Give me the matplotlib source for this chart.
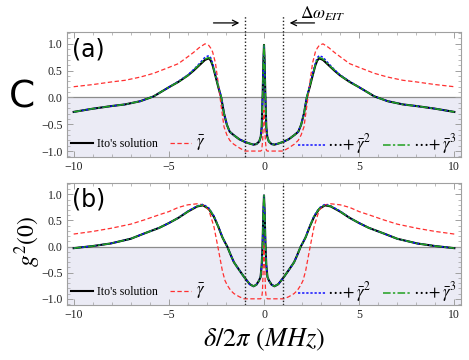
import matplotlib
matplotlib.use("Agg")
import matplotlib.pyplot as plt
from matplotlib.ticker import MultipleLocator, FuncFormatter

plt.rcParams['mathtext.fontset'] = 'stix'
plt.rcParams['font.family'] = ['Liberation Serif', 'DejaVu Serif']

# detuning delta/2pi (MHz)
x_half = [0, 0.03, 0.07, 0.12, 0.17, 0.25, 0.4, 0.55, 0.75, 1.0, 1.3, 1.6,
          1.8, 1.95, 2.1, 2.25, 2.4, 2.55, 2.7, 2.8, 2.9, 3.1, 3.4, 3.7, 4.0,
          4.5, 5.0, 5.8, 6.5, 7.3, 8.0, 9.0, 10.0]

# panel (a): C
ito_a = [0.98, 0.70, 0.05, -0.55, -0.73, -0.82, -0.87, -0.88, -0.86, -0.83,
         -0.78, -0.70, -0.64, -0.51, -0.30, 0.0, 0.19, 0.40, 0.60, 0.69, 0.73,
         0.70, 0.60, 0.50, 0.41, 0.29, 0.19, 0.02, -0.07, -0.13, -0.16, -0.21, -0.27]
g1_a = [-0.24, -0.40, -0.80, -0.98, -1.0, -1.0, -1.0, -1.0, -1.0, -1.0,
        -0.94, -0.87, -0.80, -0.70, -0.55, -0.16, 0.25, 0.64, 0.85, 0.92, 0.97,
        1.0, 0.93, 0.84, 0.76, 0.63, 0.56, 0.45, 0.38, 0.32, 0.29, 0.24, 0.20]
g2_a = [0.98, 0.70, 0.05, -0.55, -0.73, -0.82, -0.87, -0.88, -0.86, -0.83,
        -0.78, -0.70, -0.64, -0.51, -0.29, 0.02, 0.22, 0.44, 0.64, 0.74, 0.78,
        0.75, 0.63, 0.52, 0.42, 0.30, 0.19, 0.02, -0.07, -0.13, -0.16, -0.21, -0.27]
g3_a = [0.98, 0.70, 0.05, -0.55, -0.73, -0.82, -0.87, -0.88, -0.86, -0.83,
        -0.78, -0.70, -0.64, -0.51, -0.30, 0.01, 0.20, 0.41, 0.61, 0.71, 0.745,
        0.715, 0.61, 0.51, 0.41, 0.29, 0.19, 0.02, -0.07, -0.13, -0.16, -0.21, -0.27]

# panel (b): g2(0)
x_half_b = [0, 0.03, 0.08, 0.12, 0.18, 0.26, 0.4, 0.55, 0.75, 1.05, 1.3, 1.58,
            1.75, 1.93, 2.05, 2.19, 2.4, 2.63, 2.9, 3.2, 3.5, 4.0, 4.5, 5.0,
            5.5, 6.3, 7.0, 8.05, 9.0, 10.0]
ito_b = [0.98, 0.70, 0.0, -0.35, -0.58, -0.65, -0.73, -0.76, -0.72, -0.58,
         -0.45, -0.30, -0.16, 0.0, 0.08, 0.18, 0.38, 0.57, 0.72, 0.79, 0.77,
         0.67, 0.55, 0.45, 0.36, 0.25, 0.15, 0.06, 0.01, -0.03]
g1_b = [0.02, -0.30, -0.85, -0.98, -1.0, -1.0, -1.0, -1.0, -1.0, -1.0,
        -0.96, -0.90, -0.84, -0.74, -0.65, -0.46, -0.05, 0.38, 0.70, 0.80, 0.82,
        0.80, 0.75, 0.67, 0.61, 0.51, 0.43, 0.35, 0.29, 0.24]
g2_b = [0.98, 0.70, 0.0, -0.35, -0.58, -0.65, -0.73, -0.76, -0.72, -0.58,
        -0.45, -0.30, -0.16, 0.0, 0.08, 0.19, 0.39, 0.59, 0.74, 0.81, 0.78,
        0.68, 0.55, 0.45, 0.36, 0.25, 0.15, 0.06, 0.01, -0.03]
g3_b = [0.98, 0.70, 0.0, -0.35, -0.58, -0.65, -0.73, -0.76, -0.72, -0.58,
        -0.45, -0.30, -0.16, 0.0, 0.08, 0.18, 0.38, 0.58, 0.73, 0.795, 0.775,
        0.67, 0.55, 0.45, 0.36, 0.25, 0.15, 0.06, 0.01, -0.03]

x_eit = [-1.0, 1.0]   # EIT window edges
ticks_x = [-10, -5, 0, 5, 10]
ticks_y = [-1.0, -0.5, 0.0, 0.5, 1.0]


def sym(xs, ys):
    # curves are even in delta: stitch the negative side onto the listed half
    xx = [-v for v in xs[:0:-1]] + list(xs)
    yy = list(ys[:0:-1]) + list(ys)
    return xx, yy


def fmt_x(v, pos):
    return ('\u2212' + '%d' % abs(v)) if v < 0 else '%d' % v


def fmt_y(v, pos):
    return ('\u2212' + '%.1f' % abs(v)) if v < -1e-9 else '%.1f' % abs(v)


fig = plt.figure(figsize=(4.69, 3.6), dpi=100)
axa = fig.add_axes([0.1429, 0.564, 0.840, 0.347])
axb = fig.add_axes([0.1429, 0.154, 0.840, 0.338])

frame = '#a0a0a0'
ylo, yhi = -1.11, 1.22

for ax, xs, series, lab in [(axa, x_half, (ito_a, g1_a, g2_a, g3_a), '(a)'),
                            (axb, x_half_b, (ito_b, g1_b, g2_b, g3_b), '(b)')]:
    ax.axhspan(ylo, 0, color='#ebebf5', zorder=0, lw=0)
    ax.axhline(0, color='#8c8c8c', lw=0.9, zorder=1)
    ito, g1, g2, g3 = series
    l1, = ax.plot(*sym(xs, ito), color='black', lw=1.5, label="Ito's solution", zorder=3)
    l2, = ax.plot(*sym(xs, g1), color='#ff3030', lw=0.9, ls=(0, (3.5, 2)),
                  label=r'$\bar{\gamma}$', zorder=3)
    l3, = ax.plot(*sym(xs, g2), color='#1010ff', lw=1.1, ls=(0, (1.5, 1.2)),
                  label=r'$\cdots\!+\bar{\gamma}^2$', zorder=4)
    l4, = ax.plot(*sym(xs, g3), color='#20a020', lw=1.1, ls=(0, (5, 1.5, 1.5, 1.5)),
                  label=r'$\cdots\!+\bar{\gamma}^3$', zorder=5)
    ax.set_xlim(-10.35, 10.35)
    ax.set_ylim(ylo, yhi)
    ax.set_xticks(ticks_x)
    ax.set_yticks(ticks_y)
    ax.xaxis.set_minor_locator(MultipleLocator(1))
    ax.yaxis.set_minor_locator(MultipleLocator(0.1))
    ax.xaxis.set_major_formatter(FuncFormatter(fmt_x))
    ax.yaxis.set_major_formatter(FuncFormatter(fmt_y))
    ax.tick_params(which='both', direction='in', top=True, right=True,
                   color=frame, labelsize=8.5, labelcolor='#222222', pad=3)
    ax.tick_params(which='major', length=4, width=0.7)
    ax.tick_params(which='minor', length=2, width=0.5)
    for s in ax.spines.values():
        s.set_color(frame)
        s.set_linewidth(0.8)
    ax.text(0.012, 0.96, lab, transform=ax.transAxes, ha='left', va='top',
            fontsize=17, family='DejaVu Sans')

    leg1 = ax.legend(handles=[l1, l2], loc='center left', bbox_to_anchor=(0.005, 0.105),
                     ncol=2, frameon=False, fontsize=8.5, handlelength=1.8,
                     handletextpad=0.4, columnspacing=1.0, borderpad=0.2,
                     borderaxespad=0)
    leg1.get_texts()[1].set_fontsize(12)
    ax.add_artist(leg1)
    leg2 = ax.legend(handles=[l3, l4], loc='center right', bbox_to_anchor=(0.995, 0.105),
                     ncol=2, frameon=False, fontsize=8.5, handlelength=2.4,
                     handletextpad=0.1, columnspacing=1.0, borderpad=0.2,
                     borderaxespad=0)
    for t in leg2.get_texts():
        t.set_fontsize(12)

# EIT window: dotted verticals (panel a reaches above the frame)
for xv in x_eit:
    axa.plot([xv, xv], [ylo, 1.52], color='#222222', ls=(0, (1, 1.5)), lw=1.0,
             clip_on=False, zorder=6)
    axb.plot([xv, xv], [ylo, yhi], color='#222222', ls=(0, (1, 1.5)), lw=1.0,
             zorder=6)

axa.annotate('', xy=(-1.15, 1.39), xytext=(-2.8, 1.39), xycoords='data',
             arrowprops=dict(arrowstyle='->', color='black', lw=0.9),
             annotation_clip=False)
axa.annotate('', xy=(1.2, 1.39), xytext=(2.8, 1.39), xycoords='data',
             arrowprops=dict(arrowstyle='->', color='black', lw=0.9),
             annotation_clip=False)
fig.text(0.64, 0.963, r'$\Delta\omega_{EIT}$', fontsize=12.5, ha='left', va='center')

fig.text(0.047, 0.73, 'C', fontsize=27, family='DejaVu Sans',
         ha='center', va='center')
fig.text(0.06, 0.33, r'$g^2(0)$', fontsize=17, rotation=90, ha='center', va='center')
fig.text(0.562, 0.055, r'$\delta/2\pi\ (MHz)$', fontsize=19, ha='center', va='center')

fig.savefig('out.png', dpi=100)
